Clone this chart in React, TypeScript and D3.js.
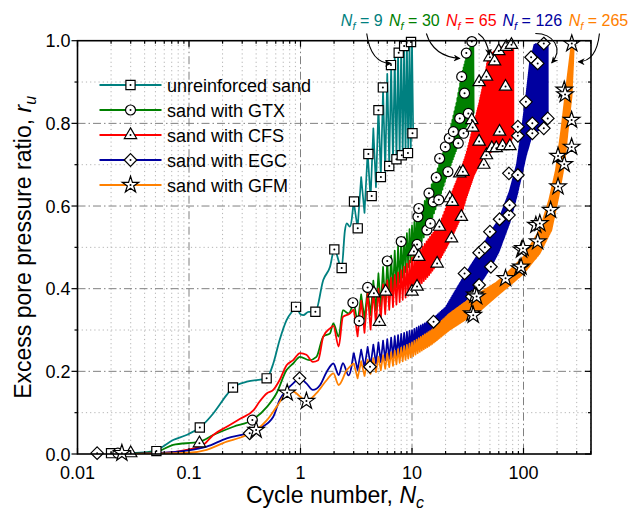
import React from 'react';
import * as d3 from 'd3';

// ---------- data ----------
const xTickValues = [0.01, 0.1, 1, 10, 100];
const xTickLabels = ['0.01', '0.1', '1', '10', '100'];
const yTickValues = [0, 0.2, 0.4, 0.6, 0.8, 1.0];
const yTickLabels = ['0.0', '0.2', '0.4', '0.6', '0.8', '1.0'];

const seriesNames = ['unreinforced sand', 'sand with GTX', 'sand with CFS', 'sand with EGC', 'sand with GFM'];
const failureCycles = ['9', '30', '65', '126', '265'];

// smooth early part of each record [N, ru]
const tealLine = [[0.02, 0], [0.03, 0.002], [0.045, 0.006], [0.055, 0.014], [0.072, 0.034], [0.095, 0.046], [0.125, 0.064], [0.165, 0.098], [0.218, 0.143], [0.248, 0.161], [0.33, 0.175], [0.497, 0.183], [0.57, 0.219], [0.65, 0.276], [0.75, 0.324], [0.86, 0.348], [0.91, 0.356], [1.0, 0.338], [1.06, 0.336], [1.18, 0.344], [1.36, 0.344], [1.6, 0.421], [1.84, 0.453], [2.01, 0.495], [2.34, 0.45], [2.5, 0.54], [2.6, 0.558], [2.77, 0.55], [3.0, 0.611]];
const greenLine = [[0.022, 0], [0.05, 0.005], [0.072, 0.022], [0.125, 0.03], [0.165, 0.046], [0.25, 0.066], [0.37, 0.082], [0.5, 0.114], [0.61, 0.147], [0.75, 0.203], [0.86, 0.219], [0.99, 0.235], [1.2, 0.227], [1.39, 0.235], [1.6, 0.284], [1.84, 0.292], [1.97, 0.316], [2.2, 0.284], [2.4, 0.348], [2.7, 0.34], [3.0, 0.37]];
const redLine = [[0.03, 0], [0.07, 0.004], [0.095, 0.01], [0.134, 0.022], [0.165, 0.046], [0.218, 0.066], [0.29, 0.086], [0.38, 0.106], [0.43, 0.127], [0.5, 0.147], [0.57, 0.155], [0.65, 0.179], [0.75, 0.215], [0.86, 0.227], [0.99, 0.244], [1.13, 0.24], [1.29, 0.223], [1.44, 0.227], [1.6, 0.284], [1.84, 0.304], [1.97, 0.31], [2.2, 0.26], [2.4, 0.332], [2.77, 0.34], [3.0, 0.35]];
const blueLine = [[0.02, 0], [0.05, 0.002], [0.095, 0.008], [0.144, 0.018], [0.218, 0.038], [0.33, 0.05], [0.43, 0.062], [0.57, 0.09], [0.65, 0.131], [0.75, 0.155], [0.86, 0.171], [0.98, 0.183], [1.13, 0.171], [1.29, 0.155], [1.5, 0.167], [1.72, 0.199], [1.97, 0.219], [2.2, 0.191], [2.4, 0.22], [2.7, 0.19], [3.0, 0.245]];
const orangeLine = [[0.03, 0], [0.1, 0.003], [0.144, 0.01], [0.218, 0.03], [0.29, 0.04], [0.4, 0.058], [0.5, 0.082], [0.61, 0.114], [0.76, 0.148], [0.86, 0.151], [0.99, 0.139], [1.13, 0.128], [1.39, 0.147], [1.72, 0.179], [1.97, 0.195], [2.2, 0.167], [2.6, 0.203], [3.0, 0.22]];

// upper (peak) and lower (trough) envelopes of the cyclic part [N, ru]
const tealHi = [[3.0, 0.611], [3.5, 0.67], [4, 0.73], [5, 0.84], [6, 0.92], [7, 0.96], [8, 0.985], [9, 0.995], [10, 1.0], [10.25, 1.0]];
const tealLo = [[3.0, 0.53], [3.25, 0.546], [4, 0.6], [4.35, 0.624], [5.26, 0.67], [6.25, 0.697], [7.25, 0.713], [8.1, 0.723], [9.2, 0.728], [10, 0.74], [10.25, 0.776]];
const greenHi = [[3.0, 0.37], [4, 0.4], [6, 0.467], [8, 0.514], [11, 0.57], [14, 0.631], [17.5, 0.7], [21, 0.764], [25, 0.849], [28, 0.92], [31, 0.965], [34, 0.99], [35.75, 0.995]];
const greenLo = [[3.0, 0.3], [3.36, 0.322], [4, 0.33], [6, 0.37], [8, 0.42], [11, 0.49], [14, 0.545], [17.5, 0.615], [21, 0.68], [25, 0.736], [28, 0.77], [31, 0.795], [35.75, 0.824]];
const redHi = [[3.0, 0.35], [4, 0.39], [5, 0.4], [6, 0.42], [8, 0.445], [10, 0.475], [11.5, 0.49], [14, 0.52], [17.6, 0.555], [21.8, 0.62], [26.8, 0.68], [30.7, 0.727], [36, 0.8], [40, 0.849], [45, 0.913], [48, 0.96], [55, 0.975], [65, 0.985], [81.25, 0.993]];
const redLo = [[3.0, 0.28], [4.2, 0.3], [5, 0.315], [6, 0.345], [8, 0.37], [10, 0.39], [11.5, 0.405], [14, 0.43], [17, 0.46], [22.6, 0.522], [26.8, 0.566], [30.7, 0.62], [36, 0.675], [40, 0.7], [46.5, 0.723], [57, 0.74], [75, 0.745], [81.25, 0.776]];
const blueHi = [[3.0, 0.245], [5, 0.27], [7, 0.285], [10, 0.3], [15, 0.325], [20, 0.355], [30, 0.435], [40, 0.487], [50, 0.535], [60, 0.566], [75, 0.635], [87, 0.7], [96, 0.78], [106, 0.87], [114, 0.946], [125, 0.99], [165.25, 0.995]];
const blueLo = [[3.0, 0.2], [5, 0.22], [7, 0.235], [10, 0.255], [15, 0.28], [20, 0.31], [30, 0.37], [40, 0.409], [51, 0.453], [60, 0.49], [75, 0.56], [87, 0.625], [96, 0.675], [106, 0.725], [120, 0.776], [140, 0.785], [165.25, 0.812]];
const orangeHi = [[3.0, 0.22], [5, 0.235], [7, 0.25], [10, 0.27], [15, 0.3], [21.7, 0.34], [33, 0.375], [40, 0.389], [57, 0.415], [66, 0.429], [100, 0.477], [140, 0.542], [170, 0.615], [195, 0.687], [218, 0.784], [242, 0.889], [263, 0.968], [271, 0.995], [283.25, 0.995]];
const orangeLo = [[3.0, 0.18], [5, 0.2], [7, 0.215], [10, 0.235], [15, 0.265], [21.7, 0.3], [33, 0.332], [40, 0.345], [57, 0.381], [100, 0.437], [140, 0.486], [178, 0.542], [206, 0.623], [233, 0.703], [250, 0.784], [270, 0.865], [279, 0.946], [283.25, 0.99]];

// symbols [N, ru]
const tealMarks = [[0.02, 0.002], [0.051, 0.007], [0.125, 0.064], [0.248, 0.161], [0.497, 0.183], [0.912, 0.356], [1.36, 0.344], [2.01, 0.495], [2.34, 0.45], [3.02, 0.611], [3.26, 0.546], [4.06, 0.726], [4.35, 0.624], [5.0, 0.832], [5.26, 0.67], [5.48, 0.887], [6.25, 0.697], [6.48, 0.941], [7.25, 0.713], [7.6, 0.971], [8.1, 0.723], [8.5, 0.987], [9.2, 0.728], [9.8, 0.997], [10.1, 0.776]];
const greenMarks = [[0.023, 0.002], [0.37, 0.082], [2.95, 0.366], [3.36, 0.322], [4.0, 0.403], [6.0, 0.467], [8.0, 0.514], [11.1, 0.507], [11.3, 0.574], [11.5, 0.594], [13.6, 0.542], [14.2, 0.631], [14.6, 0.558], [15.5, 0.61], [16.5, 0.669], [17.4, 0.615], [17.7, 0.715], [19.9, 0.743], [21, 0.683], [21.6, 0.764], [23.5, 0.78], [26, 0.752], [26.8, 0.812], [27.9, 0.913], [29, 0.776], [29.6, 0.873], [30.7, 0.97], [32, 0.824], [34.4, 0.998]];
const redMarks = [[0.03, 0.002], [0.124, 0.026], [4.55, 0.389], [5.1, 0.32], [5.8, 0.393], [10, 0.393], [10.4, 0.49], [11.1, 0.405], [11.5, 0.477], [16.8, 0.461], [17.6, 0.55], [21.8, 0.619], [22.6, 0.522], [23, 0.61], [26.8, 0.679], [27.7, 0.574], [28.6, 0.683], [34.4, 0.808], [35, 0.79], [40, 0.756], [40, 0.9], [44, 0.7], [46.5, 0.913], [46.5, 0.723], [50, 0.96], [52, 0.74], [55, 0.95], [57, 0.74], [60, 0.975], [61, 0.78], [65, 0.745], [69, 0.889], [70, 0.985], [75.5, 0.745], [78, 0.99]];
const blueMarks = [[0.015, 0.002], [0.35, 0.05], [0.98, 0.183], [4.2, 0.211], [15.6, 0.32], [29.6, 0.437], [34.4, 0.381], [40, 0.487], [40, 0.409], [45, 0.5], [50, 0.538], [51, 0.453], [61, 0.568], [74, 0.578], [75, 0.602], [74, 0.679], [89, 0.675], [89, 0.77], [89, 0.792], [105, 0.852], [117, 0.96], [120, 0.776], [120, 0.8], [134, 0.945], [152, 0.993], [152, 0.788], [165, 0.812]];
const orangeMarks = [[0.025, 0.002], [0.4, 0.058], [0.76, 0.148], [1.13, 0.128], [34.4, 0.34], [35.4, 0.336], [36.6, 0.385], [38, 0.381], [69, 0.425], [92, 0.449], [95, 0.453], [96, 0.494], [99, 0.498], [129, 0.554], [134, 0.514], [140, 0.558], [175, 0.59], [204, 0.647], [204, 0.721], [232, 0.701], [232, 0.881], [236, 0.87], [270, 0.743], [270, 0.808], [271, 0.993]];

// ---------- styling ----------
const COLORS = ['#008080', '#008000', '#ff0000', '#0000a0', '#ff8000'];
const SYMBOLS = ['square', 'circle', 'triangle', 'diamond', 'star'];
const FONT = '"Liberation Sans", Arial, Helvetica, sans-serif';

const lines = [tealLine, greenLine, redLine, blueLine, orangeLine];
const his = [tealHi, greenHi, redHi, blueHi, orangeHi];
const los = [tealLo, greenLo, redLo, blueLo, orangeLo];
const marks = [tealMarks, greenMarks, redMarks, blueMarks, orangeMarks];

function envAt(env: number[][], n: number): number {
  if (n <= env[0][0]) return env[0][1];
  for (let i = 1; i < env.length; i++) {
    if (n <= env[i][0]) {
      const [n0, r0] = env[i - 1];
      const [n1, r1] = env[i];
      const t = (Math.log(n) - Math.log(n0)) / (Math.log(n1) - Math.log(n0));
      return r0 + t * (r1 - r0);
    }
  }
  return env[env.length - 1][1];
}

// cyclic record: peaks and troughs every quarter cycle, alternating between envelopes
function cyclic(hi: number[][], lo: number[][]): number[][] {
  const s = hi[0][0];
  const e = Math.max(lo[lo.length - 1][0], hi[hi.length - 1][0]);
  const pts: number[][] = [];
  for (let j = 0; s + j * 0.25 <= e + 1e-9; j++) {
    const n = s + j * 0.25;
    pts.push([n, j % 2 === 0 ? envAt(hi, n) : envAt(lo, n)]);
  }
  return pts;
}

function symbolPath(type: string): string {
  switch (type) {
    case 'square': return 'M-4.6,-4.6H4.6V4.6H-4.6Z';
    case 'circle': return d3.symbol(d3.symbolCircle, 78)() as string;
    case 'triangle': return d3.symbol(d3.symbolTriangle, 66)() as string;
    case 'diamond': return 'M0,-6.3L6.3,0L0,6.3L-6.3,0Z';
    default: return d3.symbol(d3.symbolStar, 85)() as string;
  }
}

function Marker({ type, cx, cy }: { type: string; cx: number; cy: number }) {
  return (
    <g transform={`translate(${cx},${cy})`}>
      <path d={symbolPath(type)} fill="#fff" stroke="#000" strokeWidth={1.2} strokeLinejoin="miter" />
      <circle r={1} fill="#000" />
    </g>
  );
}

export default function App() {
  const L = 77.5, R = 591, T = 40.7, B = 454;
  const x = d3.scaleLog().domain([0.01, 403]).range([L, R]);
  const y = d3.scaleLinear().domain([0, 1]).range([B, T]);

  const smooth = d3.line<number[]>().x(d => x(d[0])).y(d => y(d[1])).curve(d3.curveMonotoneX);
  const straight = d3.line<number[]>().x(d => x(d[0])).y(d => y(d[1]));

  // grid
  const minorX: number[] = [];
  for (let dec = 0.01; dec < 400; dec *= 10) {
    for (let k = 2; k <= 9; k++) {
      const v = dec * k;
      if (v < 403) minorX.push(v);
    }
  }
  const majorX = [0.1, 1, 10, 100];
  const majorY = [0.2, 0.4, 0.6, 0.8];
  const minorY = [0.1, 0.3, 0.5, 0.7, 0.9];

  // annotations (data coordinates of arrow tips; label centres)
  const annTextN = [3.54, 10.5, 34, 120, 470];
  const annTipN = [6.5, 26.9, 49.3, 179, 310];
  const annTipR = [0.945, 0.957, 0.965, 0.946, 0.949];

  const arrowPaths = annTipN.map((n, i) => {
    const tx = x(n), ty = y(annTipR[i]);
    const sx = x(annTextN[i]) + [5, 12, 7, 3, 1][i];
    const sy = 33.5;
    if (i === 0) return `M${sx},${sy} Q${sx + 4},${ty} ${tx},${ty}`;
    if (i === 1) return `M${sx},${sy} Q${sx + 7},${ty - 2} ${tx},${ty}`;
    if (i === 2) return `M${sx},${sy} Q${sx + 9},${sy + 6} ${tx},${ty}`;
    if (i === 3) return `M${sx},${sy} C${sx + 18},${sy} ${tx + 12},${sy + 15} ${tx},${ty}`;
    return `M${sx},${sy} Q${sx - 3},${ty} ${tx},${ty}`;
  });

  return (
    <svg width={629} height={514} style={{ position: 'absolute', left: 0, top: 0, background: '#fff' }} fontFamily={FONT}>
      <defs>
        <marker id="ah" viewBox="0 0 10 10" refX="9" refY="5" markerWidth="7" markerHeight="7" orient="auto-start-reverse" markerUnits="userSpaceOnUse">
          <path d="M0,0 L10,5 L0,10 L3,5 Z" fill="#000" />
        </marker>
        <clipPath id="plot">
          <rect x={L} y={T - 6} width={R - L} height={B - T + 6} />
        </clipPath>
      </defs>

      {/* grid */}
      <g>
        {minorX.map((v, i) => (
          <line key={'mx' + i} x1={x(v)} x2={x(v)} y1={T} y2={B} stroke="#b4b4b4" strokeWidth={1} strokeDasharray="1.2,3" />
        ))}
        {minorY.map((v, i) => (
          <line key={'my' + i} x1={L} x2={R} y1={y(v)} y2={y(v)} stroke="#b4b4b4" strokeWidth={1} strokeDasharray="1.2,3" />
        ))}
        {majorX.map((v, i) => (
          <line key={'Mx' + i} x1={x(v)} x2={x(v)} y1={T} y2={B} stroke="#808080" strokeWidth={1} strokeDasharray="8,3,1.5,3" />
        ))}
        {majorY.map((v, i) => (
          <line key={'My' + i} x1={L} x2={R} y1={y(v)} y2={y(v)} stroke="#808080" strokeWidth={1} strokeDasharray="8,3,1.5,3" />
        ))}
      </g>

      {/* data lines */}
      <g clipPath="url(#plot)">
        {lines.map((ln, i) => (
          <g key={'s' + i}>
            <path d={smooth(ln as any) || ''} fill="none" stroke={COLORS[i]} strokeWidth={1.8} strokeLinejoin="round" />
            <path d={straight(cyclic(his[i], los[i]) as any) || ''} fill="none" stroke={COLORS[i]} strokeWidth={1.7} strokeLinejoin="round" />
          </g>
        ))}
      </g>

      {/* symbols */}
      <g>
        {marks.map((ms, i) => (
          <g key={'m' + i}>
            {ms.map((m, k) => (
              <Marker key={k} type={SYMBOLS[i]} cx={x(m[0])} cy={y(m[1])} />
            ))}
          </g>
        ))}
      </g>

      {/* frame */}
      <rect x={L} y={T} width={R - L} height={B - T} fill="none" stroke="#000" strokeWidth={1.6} />

      {/* ticks */}
      <g stroke="#000" strokeWidth={1.2}>
        {yTickValues.map((v, i) => (
          <g key={'yt' + i}>
            <line x1={L - 6} x2={L} y1={y(v)} y2={y(v)} />
            <line x1={R - 6} x2={R} y1={y(v)} y2={y(v)} />
          </g>
        ))}
        {minorY.map((v, i) => (
          <g key={'ymt' + i}>
            <line x1={L - 3} x2={L} y1={y(v)} y2={y(v)} />
            <line x1={R - 3} x2={R} y1={y(v)} y2={y(v)} />
          </g>
        ))}
        {xTickValues.map((v, i) => (
          <g key={'xt' + i}>
            <line x1={x(v)} x2={x(v)} y1={B} y2={B - 6} />
            <line x1={x(v)} x2={x(v)} y1={T} y2={T + 6} />
          </g>
        ))}
        {minorX.map((v, i) => (
          <g key={'xmt' + i}>
            <line x1={x(v)} x2={x(v)} y1={B} y2={B - 3} />
            <line x1={x(v)} x2={x(v)} y1={T} y2={T + 3} />
          </g>
        ))}
      </g>

      {/* tick labels */}
      <g fontSize={18} fill="#000">
        {yTickValues.map((v, i) => (
          <text key={'yl' + i} x={L - 7} y={y(v) + 6.5} textAnchor="end">{yTickLabels[i]}</text>
        ))}
        {xTickValues.map((v, i) => (
          <text key={'xl' + i} x={x(v)} y={B + 25} textAnchor="middle">{xTickLabels[i]}</text>
        ))}
      </g>

      {/* axis titles */}
      <text x={335} y={503} fontSize={23} textAnchor="middle" fill="#000">
        Cycle number, <tspan fontStyle="italic">N</tspan><tspan fontStyle="italic" fontSize={16} dy={5}>c</tspan>
      </text>
      <text transform={`translate(31,${(T + B) / 2}) rotate(-90)`} fontSize={23} textAnchor="middle" fill="#000">
        Excess pore pressure ratio, <tspan fontStyle="italic">r</tspan><tspan fontStyle="italic" fontSize={16} dy={5}>u</tspan>
      </text>

      {/* legend */}
      <g>
        {seriesNames.map((nm, i) => {
          const cy = 85 + i * 25;
          return (
            <g key={'lg' + i}>
              <line x1={99.5} x2={161.5} y1={cy} y2={cy} stroke={COLORS[i]} strokeWidth={2} />
              <Marker type={SYMBOLS[i]} cx={130.5} cy={cy} />
              <text x={167} y={cy + 6.5} fontSize={18} fill="#000">{nm}</text>
            </g>
          );
        })}
      </g>

      {/* failure annotations */}
      <g>
        {failureCycles.map((nf, i) => (
          <text key={'an' + i} x={x(annTextN[i])} y={26} fontSize={16} textAnchor="middle" fill={COLORS[i]}>
            <tspan fontStyle="italic">N</tspan><tspan fontStyle="italic" fontSize={11} dy={4}>f</tspan><tspan dy={-4}>{' = ' + nf}</tspan>
          </text>
        ))}
        {arrowPaths.map((d, i) => (
          <path key={'ar' + i} d={d} fill="none" stroke="#000" strokeWidth={1.1} markerEnd="url(#ah)" />
        ))}
      </g>
    </svg>
  );
}
